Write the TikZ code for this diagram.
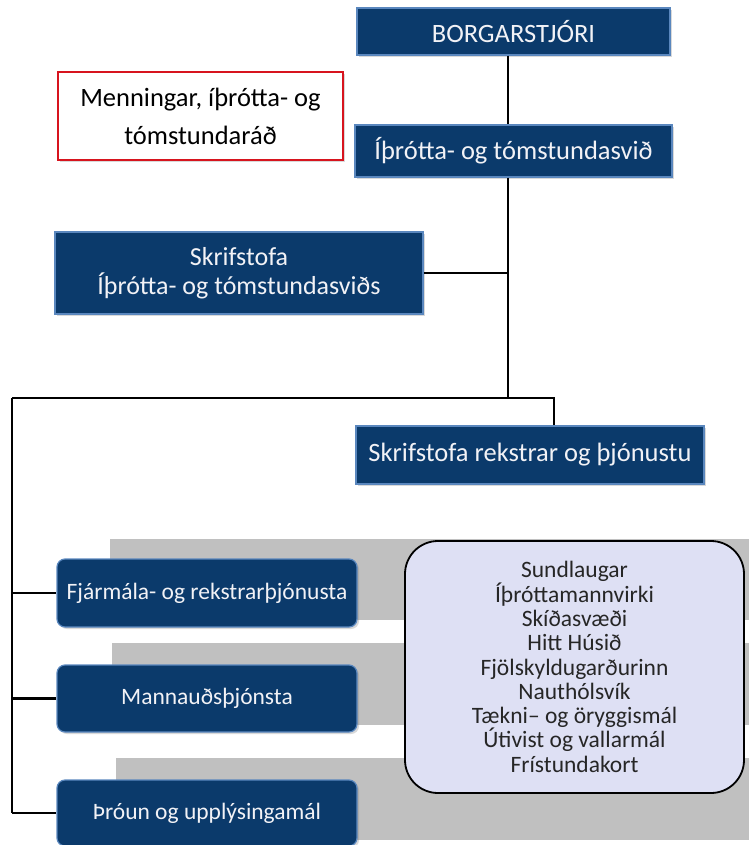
\documentclass[tikz,border=0pt]{standalone}
\usepackage{fontspec}
\setmainfont{Carlito}
\usetikzlibrary{shadows}
\definecolor{navy}{RGB}{11,58,107}
\definecolor{edgeblue}{RGB}{90,135,190}
\definecolor{lav}{RGB}{222,224,244}
\definecolor{band}{RGB}{192,192,192}
\definecolor{redb}{RGB}{215,20,30}
\definecolor{wtext}{RGB}{242,242,246}
\tikzset{
  bluebox/.style={fill=navy, draw=edgeblue, line width=1.2pt, text=wtext, inner sep=0pt, align=center,
    drop shadow={shadow xshift=2pt, shadow yshift=-2pt, opacity=0.3}},
  topfont/.style={font=\fontsize{26.5}{30}\selectfont},
  lowbox/.style={bluebox, rounded corners=8pt, minimum width=300pt, minimum height=68pt, font=\fontsize{23.5}{27}\selectfont},
  conn/.style={draw=black, line width=2.2pt},
  bandfill/.style={fill=band},
}
\begin{document}
\begin{tikzpicture}[x=1pt,y=-1pt]
\useasboundingbox (0,0) rectangle (749,845);
% gray bands
\fill[bandfill] (110,539) rectangle (749,620);
\fill[bandfill] (112,643) rectangle (749,725);
\fill[bandfill] (116,758) rectangle (749,840);
% top boxes
\node[bluebox, topfont, minimum width=313pt, minimum height=47pt] (borg) at (513.5,31.5) {BORGARSTJÓRI};
\node[bluebox, topfont, minimum width=317pt, minimum height=52pt] (itr) at (513.5,151) {Íþrótta- og tómstundasvið};
\node[draw=redb, line width=2.5pt, fill=white, inner sep=0pt, minimum width=285pt, minimum height=88pt, align=center,
  font=\fontsize{26.5}{38}\selectfont, drop shadow={shadow xshift=2pt, shadow yshift=-2pt, opacity=0.3}] (mit) at (200.5,116) {Menningar, íþrótta- og\\tómstundaráð};
\node[bluebox, font=\fontsize{26}{29}\selectfont, minimum width=368pt, minimum height=82pt] (skr) at (239,273) {Skrifstofa\\Íþrótta- og tómstundasviðs};
\node[bluebox, topfont, minimum width=348pt, minimum height=58pt] (rek) at (530,455) {Skrifstofa rekstrar og þjónustu};
% lower boxes
\node[lowbox] (fja) at (207,593) {Fjármála- og rekstrarþjónusta};
\node[lowbox, minimum height=67pt] (mann) at (207,698.5) {Mannauðsþjónsta};
\node[lowbox, minimum height=66pt] (thr) at (207,813) {Þróun og upplýsingamál};
\node[draw=black, line width=1.8pt, fill=lav, rounded corners=33pt, inner sep=0pt, minimum width=339pt, minimum height=252pt,
  align=center, font=\fontsize{23.5}{24.3}\selectfont, text=black!85] (list) at (574.5,667)
  {Sundlaugar\\Íþróttamannvirki\\Skíðasvæði\\Hitt Húsið\\Fjölskyldugarðurinn\\Nauthólsvík\\Tækni– og öryggismál\\Útivist og vallarmál\\Frístundakort};
% connectors
\coordinate (trunk) at (508,398);
\coordinate (jl) at (12,398);
\coordinate (jr) at (554,398);
\draw[conn] (trunk |- borg.south) -- (trunk |- itr.north);
\draw[conn] (trunk |- itr.south) -- (trunk);
\draw[conn] (skr.east) -- (skr.east -| trunk);
\draw[conn] (jl) -- (jr) -- (jr |- rek.north);
\draw[conn] (jl) -- (jl |- thr.west);
\draw[conn] (jl |- fja.west) -- (fja.west);
\draw[conn] (jl |- mann.west) -- (mann.west);
\draw[conn] (jl |- thr.west) -- (thr.west);
\end{tikzpicture}
\end{document}
